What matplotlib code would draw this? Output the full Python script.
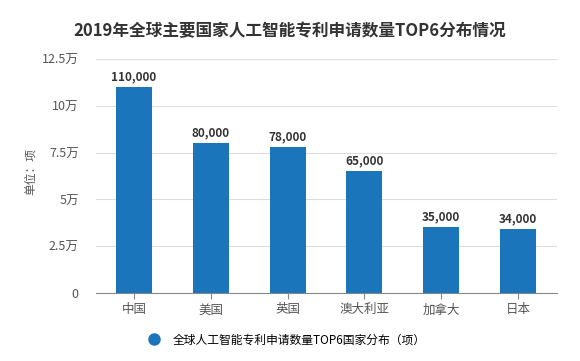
import matplotlib.pyplot as plt
from matplotlib.lines import Line2D

plt.rcParams['font.family'] = ['Noto Sans CJK SC', 'DejaVu Sans']

countries = ['中国', '美国', '英国', '澳大利亚', '加拿大', '日本']
patents = [110000, 80000, 78000, 65000, 35000, 34000]
ytick_vals = [0, 25000, 50000, 75000, 100000, 125000]
ytick_labels = ['0', '2.5万', '5万', '7.5万', '10万', '12.5万']

bar_color = '#1b75bb'

fig = plt.figure(figsize=(5.8, 3.61), dpi=100)
ax = fig.add_axes([0.1647, 0.1884, 0.7948, 0.6482])

x = range(len(countries))
bars = ax.bar(x, patents, width=0.47, color=bar_color, zorder=3)
for xi, v in zip(x, patents):
    ax.text(xi, v + 2000, f'{v:,}', ha='center', va='bottom',
            fontsize=8.5, fontweight='bold', color='#333333', zorder=4)

ax.set_xlim(-0.5, len(countries) - 0.5)
ax.set_ylim(0, 125000)
ax.set_yticks(ytick_vals)
ax.set_yticklabels(ytick_labels)
ax.set_xticks(list(x))
ax.set_xticklabels(countries)
ax.tick_params(axis='y', length=0, labelsize=9, labelcolor='#555555', pad=12)
ax.tick_params(axis='x', length=4, color='#888888', labelsize=9,
               labelcolor='#555555')
ax.yaxis.grid(True, color='#dddddd', linewidth=0.8, zorder=0)
for s in ['top', 'right', 'left']:
    ax.spines[s].set_visible(False)
ax.spines['bottom'].set_color('#888888')

fig.text(0.052, 0.525, '单位：项', rotation=90, ha='center', va='center',
         fontsize=8.5, color='#555555')

fig.text(0.5, 0.915, '2019年全球主要国家人工智能专利申请数量TOP6分布情况',
         ha='center', va='center', fontsize=12, fontweight='bold', color='#333333')

handle = Line2D([], [], marker='o', linestyle='none', markersize=8,
                markerfacecolor=bar_color, markeredgecolor=bar_color)
fig.legend([handle], ['全球人工智能专利申请数量TOP6国家分布（项）'],
           loc='center', bbox_to_anchor=(0.49, 0.058), frameon=False,
           fontsize=8.5, handletextpad=0.6)

fig.savefig('out.png', dpi=100)
